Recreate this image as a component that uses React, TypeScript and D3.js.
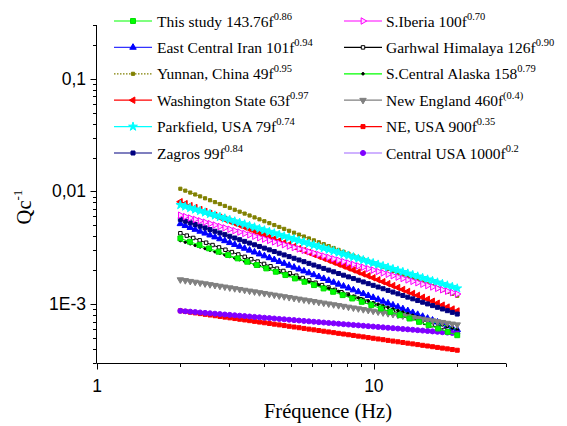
import React from 'react';
import * as d3 from 'd3';

// Qc^-1 = 1 / (Q0 * f^n), parameters
const names = ['This study', 'East Central Iran', 'Yunnan, China', 'Washington State', 'Parkfield, USA', 'Zagros',
  'S.Iberia', 'Garhwal Himalaya', 'S.Central Alaska', 'New England', 'NE, USA', 'Central USA'];
const q0 = [143.76, 101, 49, 63, 79, 99, 100, 126, 158, 460, 900, 1000];
const expo = [0.86, 0.94, 0.95, 0.97, 0.74, 0.84, 0.70, 0.90, 0.79, 0.4, 0.35, 0.2];
const labelMain = ['This study 143.76f', 'East Central Iran 101f', 'Yunnan, China 49f', 'Washington State 63f',
  'Parkfield, USA 79f', 'Zagros 99f', 'S.Iberia 100f', 'Garhwal Himalaya 126f', 'S.Central Alaska 158',
  'New England 460f', 'NE, USA 900f', 'Central USA 1000f'];
const labelSup = ['0.86', '0.94', '0.95', '0.97', '0.74', '0.84', '0.70', '0.90', '0.79', '(0.4)', '0.35', '0.2'];
const pointCount = [30, 57, 57, 57, 57, 57, 57, 44, 57, 57, 57, 57];
const fMin = 2;
const fMax = 20;

const xTickMajor = [1, 10];
const xTickMinor = [2, 3, 4, 5, 6, 7, 8, 9, 20, 30];
const yTickMajor = [0.1, 0.01, 0.001];
const yTickLabels = ['0,1', '0,01', '1E-3'];
const yTickMinor = [3e-4, 4e-4, 5e-4, 6e-4, 7e-4, 8e-4, 9e-4, 2e-3, 3e-3, 4e-3, 5e-3, 6e-3, 7e-3, 8e-3, 9e-3,
  2e-2, 3e-2, 4e-2, 5e-2, 6e-2, 7e-2, 8e-2, 9e-2, 0.2, 0.3];

type Style = { line: string; shape: string; fill: string; stroke: string; size: number; dash?: string };
const styles: Style[] = [
  { line: '#00ff00', shape: 'square', fill: '#00ff00', stroke: '#00dd00', size: 24 },
  { line: '#3333ff', shape: 'up', fill: '#0000ff', stroke: '#0000ff', size: 18 },
  { line: '#808000', shape: 'square', fill: '#808000', stroke: '#808000', size: 10, dash: '1.5,1.5' },
  { line: '#ff0000', shape: 'left', fill: '#ff0000', stroke: '#ff0000', size: 18 },
  { line: '#00ffff', shape: 'star', fill: '#00ffff', stroke: '#00ffff', size: 24 },
  { line: '#000080', shape: 'square', fill: '#000080', stroke: '#000080', size: 16 },
  { line: '#ff00ff', shape: 'right', fill: '#ffd8ff', stroke: '#ff00ff', size: 18 },
  { line: '#000000', shape: 'square', fill: '#ffffff', stroke: '#000000', size: 12 },
  { line: '#00ff00', shape: 'circle', fill: '#000000', stroke: '#000000', size: 5 },
  { line: '#808080', shape: 'down', fill: '#808080', stroke: '#808080', size: 18 },
  { line: '#ff0000', shape: 'square', fill: '#ff0000', stroke: '#ff0000', size: 16 },
  { line: '#a066ff', shape: 'circle', fill: '#8000ff', stroke: '#8000ff', size: 20 },
];

const W = 567;
const H = 426;
const x = d3.scaleLog().domain([1, 30]).range([97, 506]);
const y = d3.scaleLog().domain([3e-4, 0.3]).range([363, 25]);

const symPath = (shape: string, size: number) => {
  const t = shape === 'square' ? d3.symbolSquare : shape === 'circle' ? d3.symbolCircle
    : shape === 'star' ? d3.symbolStar : d3.symbolTriangle;
  return d3.symbol().type(t).size(size)() as string;
};
const symRot = (shape: string) => (shape === 'left' ? -90 : shape === 'right' ? 90 : shape === 'down' ? 180 : 0);

const Marker = ({ s, cx, cy }: { s: Style; cx: number; cy: number }) => (
  <path d={symPath(s.shape, s.size)} transform={`translate(${cx},${cy}) rotate(${symRot(s.shape)})`}
    fill={s.fill} stroke={s.stroke} strokeWidth={1} />
);

const css = `
  text.rm { font-family: 'Liberation Serif'; }
  text.ss { font-family: 'Liberation Sans'; }
`;

export default function App() {
  const series = names.map((name, i) => {
    const n = pointCount[i];
    const pts = d3.range(n).map(k => {
      const f = fMin * Math.pow(fMax / fMin, k / (n - 1));
      return [f, 1 / (q0[i] * Math.pow(f, expo[i]))] as [number, number];
    });
    return { name, i, pts };
  });
  // "This study" sits on top
  const drawOrder = [...series.slice(1), series[0]];
  const line = d3.line<[number, number]>().x(d => x(d[0])).y(d => y(d[1]));

  return (
    <svg width={W} height={H} style={{ position: 'absolute', left: 0, top: 0 }}>
      <style>{css}</style>
      <rect width={W} height={H} fill="#fff" />
      {drawOrder.map(s => (
        <g key={s.name}>
          <path d={line(s.pts) as string} fill="none" stroke={styles[s.i].line} strokeWidth={1}
            strokeDasharray={styles[s.i].dash} />
          {s.pts.map((p, k) => <Marker key={k} s={styles[s.i]} cx={x(p[0])} cy={y(p[1])} />)}
        </g>
      ))}

      {/* axes */}
      <g stroke="#000" strokeWidth={1}>
        <line x1={x(1)} x2={x(30)} y1={363.5} y2={363.5} />
        <line x1={96.5} x2={96.5} y1={y(0.3)} y2={363.5} />
        {xTickMajor.map(t => <line key={t} x1={Math.round(x(t)) + 0.5} x2={Math.round(x(t)) + 0.5} y1={363.5} y2={369.5} />)}
        {xTickMinor.map(t => <line key={t} x1={Math.round(x(t)) + 0.5} x2={Math.round(x(t)) + 0.5} y1={363.5} y2={367} />)}
        {yTickMajor.map(t => <line key={t} x1={90.5} x2={96.5} y1={Math.round(y(t)) + 0.5} y2={Math.round(y(t)) + 0.5} />)}
        {yTickMinor.map(t => <line key={t} x1={93} x2={96.5} y1={Math.round(y(t)) + 0.5} y2={Math.round(y(t)) + 0.5} />)}
      </g>
      {xTickMajor.map(t => (
        <text key={t} className="ss" x={x(t)} y={392} textAnchor="middle" fontSize={17.5}>{t}</text>
      ))}
      {yTickMajor.map((t, k) => (
        <text key={t} className="ss" x={86} y={y(t) + 6} textAnchor="end" fontSize={17.5}>{yTickLabels[k]}</text>
      ))}
      <text className="rm" x={328} y={418} textAnchor="middle" fontSize={20.5}>Fréquence (Hz)</text>
      <text className="rm" transform="translate(31,207) rotate(-90)" textAnchor="middle" fontSize={20.5}>
        Qc<tspan dy={-9} fontSize={13}>-1</tspan>
      </text>

      {/* legend */}
      {names.map((name, i) => {
        const col = i < 6 ? 0 : 1;
        const row = i % 6;
        const cy = 21 + row * 26.4;
        const lx0 = col === 0 ? 114 : 344;
        const lx1 = col === 0 ? 152 : 382;
        const tx = col === 0 ? 157 : 386;
        const s = styles[i];
        return (
          <g key={name}>
            <line x1={lx0} x2={lx1} y1={cy} y2={cy} stroke={s.line} strokeWidth={1.2} strokeDasharray={s.dash} />
            <Marker s={s} cx={(lx0 + lx1) / 2} cy={cy} />
            <text className="rm" x={tx} y={cy + 5.5} fontSize={15.5}>
              {labelMain[i]}<tspan dy={-7} fontSize={10.5}>{labelSup[i]}</tspan>
            </text>
          </g>
        );
      })}
    </svg>
  );
}
